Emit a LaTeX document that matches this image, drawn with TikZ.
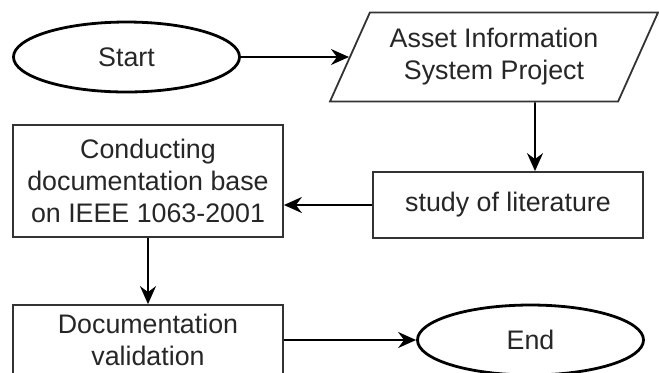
\documentclass[tikz,border=0pt]{standalone}
\usepackage{fontspec}
\setmainfont{Liberation Sans}
\usetikzlibrary{shapes.geometric,arrows.meta}

\begin{document}
\begin{tikzpicture}[x=0.5pt,y=-0.5pt,
	terminal/.style={ellipse, draw=black, line width=1.4pt, minimum width=113pt, minimum height=35pt, inner sep=0pt},
	process/.style={rectangle, draw=black!80, line width=0.9pt, minimum width=135pt, align=center, inner sep=0pt},
	io/.style={trapezium, trapezium left angle=55, trapezium right angle=125, trapezium stretches body, draw=black!80, line width=0.9pt, minimum width=164pt, minimum height=44.5pt, align=center, inner sep=0pt},
	flow/.style={-{Stealth[length=9pt,width=8pt,inset=3pt]}, line width=0.9pt},
	font=\fontsize{13.4}{16}\selectfont, text=black!85]
		\useasboundingbox (0,0) rectangle (659,372);
		\clip (0,0) rectangle (659,372);
		
		\node[terminal] (start) at (126.5,57) {Start};
		\node[io] (asset) at (494,57) {Asset Information\\System Project};
		\node[process, minimum height=33pt] (study) at (508,205) {study of literature};
		\node[process, minimum height=56pt] (conduct) at (148,181) {Conducting\\documentation base\\on IEEE 1063-2001};
		\node[process, minimum height=35pt] (valid) at (148,340) {Documentation\\validation};
		\node[terminal] (end) at (530.5,340) {End};
		
		\draw[flow] (start) -- (asset);
		\draw[flow] ([xshift=20.5pt]asset.south) -- ([xshift=13.5pt]study.north);
		\draw[flow] (study.west) -- (study.west -| conduct.east);
		\draw[flow] (conduct) -- (valid);
		\draw[flow] (valid) -- (end);
		\end{tikzpicture}
\end{document}
